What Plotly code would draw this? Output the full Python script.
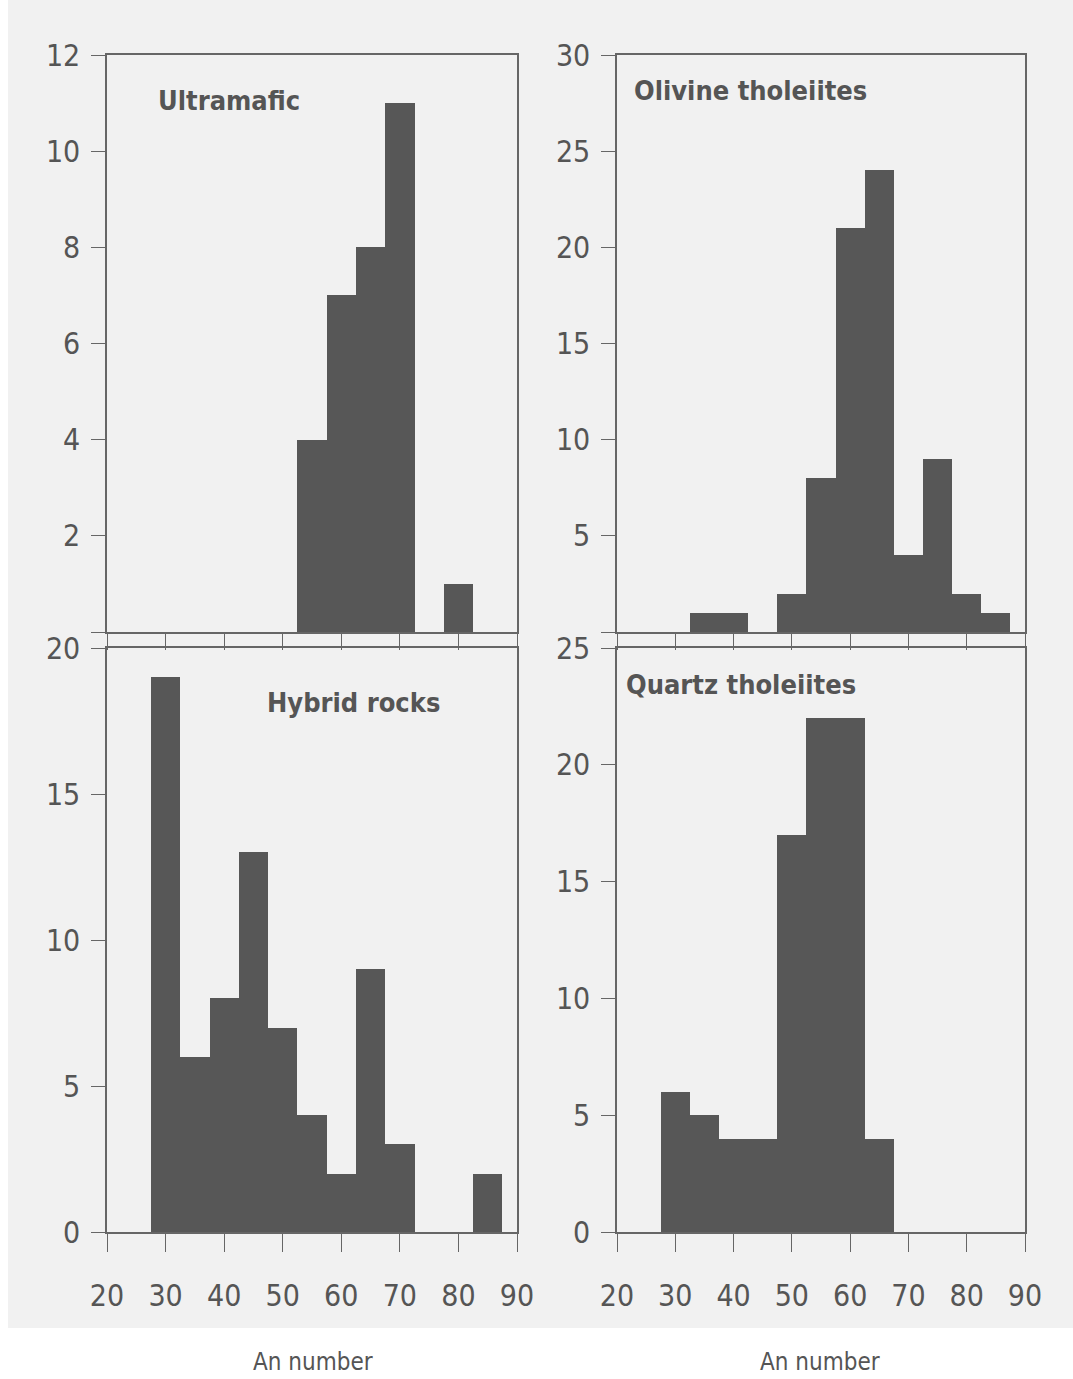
import plotly.graph_objects as go

# ---------------- data ----------------
ultra_bins = [55, 60, 65, 70, 80]
ultra_counts = [4, 7, 8, 11, 1]

olivine_bins = [35, 40, 50, 55, 60, 65, 70, 75, 80, 85]
olivine_counts = [1, 1, 2, 8, 21, 24, 4, 9, 2, 1]

hybrid_bins = [30, 35, 40, 45, 50, 55, 60, 65, 70, 85]
hybrid_counts = [19, 6, 8, 13, 7, 4, 2, 9, 3, 2]

quartz_bins = [30, 35, 40, 45, 50, 55, 60, 65]
quartz_counts = [6, 5, 4, 4, 17, 22, 22, 4]

panel_titles = ["Ultramafic", "Olivine tholeiites", "Hybrid rocks", "Quartz tholeiites"]
x_ticks = [20, 30, 40, 50, 60, 70, 80, 90]
x_label = "An number"
bin_width = 5

W, H = 1073, 1379
FONT = "DejaVu Sans Condensed, Liberation Sans Narrow, Arial Narrow, sans-serif"
TXT = "#555555"
BAR = "#575757"
AX = "#666666"
BG = "#f1f1f1"

def px_x(p):
    return p / W

def px_y(p):
    return 1 - p / H

left_dom = [px_x(107), px_x(517)]
right_dom = [px_x(617), px_x(1025)]
top_dom = [px_y(632), px_y(55)]
bot_dom = [px_y(1232), px_y(648)]

fig = go.Figure()

panels = [
    (ultra_bins, ultra_counts, "x", "y"),
    (olivine_bins, olivine_counts, "x2", "y2"),
    (hybrid_bins, hybrid_counts, "x3", "y3"),
    (quartz_bins, quartz_counts, "x4", "y4"),
]
for bins, counts, xa, ya in panels:
    fig.add_trace(go.Bar(x=bins, y=counts, width=bin_width, xaxis=xa, yaxis=ya,
                         marker=dict(color=BAR, line=dict(width=0)),
                         showlegend=False, hoverinfo="x+y"))

def xaxis(domain, anchor, labels):
    return dict(domain=domain, anchor=anchor, range=[20, 90],
                tickvals=x_ticks, ticktext=[str(v) for v in x_ticks],
                showticklabels=labels, ticks="outside",
                ticklen=18 if labels else 16, tickwidth=1.3, tickcolor=AX,
                showline=True, linecolor=AX, linewidth=1.5, mirror=True,
                showgrid=False, zeroline=False, automargin=False,
                tickfont=dict(family=FONT, size=30, color=TXT),
                ticklabelstandoff=18)

def yaxis(domain, anchor, rng, step, show_zero):
    vals = list(range(0, rng + 1, step))
    txt = [str(v) if (v != 0 or show_zero) else "" for v in vals]
    return dict(domain=domain, anchor=anchor, range=[0, rng],
                tickvals=vals, ticktext=txt, ticks="outside", ticklen=14,
                tickwidth=1.3, tickcolor=AX,
                showline=True, linecolor=AX, linewidth=1.5, mirror=True,
                showgrid=False, zeroline=False, automargin=False,
                tickfont=dict(family=FONT, size=30, color=TXT),
                ticklabelstandoff=5)

fig.update_layout(
    width=W, height=H, autosize=False,
    margin=dict(l=0, r=0, t=0, b=0, pad=0, autoexpand=False),
    paper_bgcolor=BG,
    plot_bgcolor=BG,
    bargap=0,
    xaxis=xaxis(left_dom, "y", False),
    yaxis=yaxis(top_dom, "x", 12, 2, False),
    xaxis2=xaxis(right_dom, "y2", False),
    yaxis2=yaxis(top_dom, "x2", 30, 5, False),
    xaxis3=xaxis(left_dom, "y3", True),
    yaxis3=yaxis(bot_dom, "x3", 20, 5, True),
    xaxis4=xaxis(right_dom, "y4", True),
    yaxis4=yaxis(bot_dom, "x4", 25, 5, True),
    shapes=[dict(type="rect", xref="paper", yref="paper",
                 x0=0, x1=1, y0=0, y1=px_y(1328),
                 fillcolor="white", line=dict(width=0), layer="below"),
            dict(type="rect", xref="paper", yref="paper",
                 x0=0, x1=px_x(8), y0=0, y1=1,
                 fillcolor="white", line=dict(width=0), layer="below")],
)

title_pos = [("x domain", "y domain", 0.298, 0.922),
             ("x2 domain", "y2 domain", 0.326, 0.939),
             ("x3 domain", "y3 domain", 0.602, 0.906),
             ("x4 domain", "y4 domain", 0.304, 0.938)]
for t, (xr, yr, xx, yy) in zip(panel_titles, title_pos):
    fig.add_annotation(text="<b>" + t + "</b>", xref=xr, yref=yr, x=xx, y=yy,
                       showarrow=False, xanchor="center", yanchor="middle",
                       font=dict(family=FONT, size=27, color=TXT))

for xx in [px_x(313), px_x(820)]:
    fig.add_annotation(text=x_label, xref="paper", yref="paper", x=xx, y=px_y(1362),
                       showarrow=False, xanchor="center", yanchor="middle",
                       font=dict(family=FONT, size=24, color=TXT))

fig.write_html("out.html")
